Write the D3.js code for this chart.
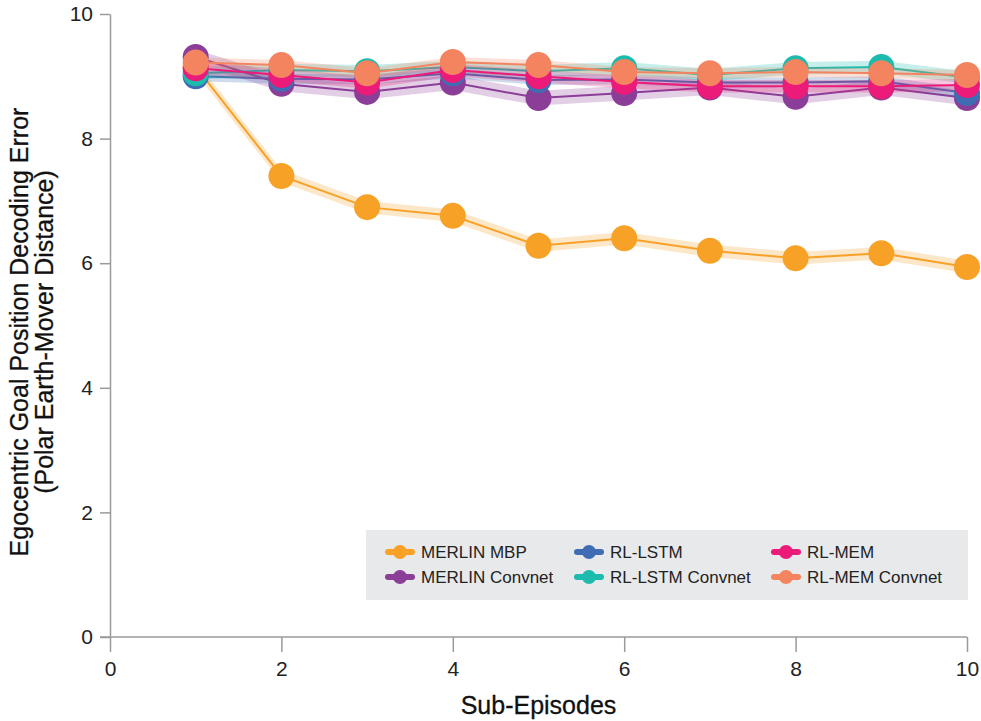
<!DOCTYPE html>
<html>
<head>
<meta charset="utf-8">
<script src="https://cdn.jsdelivr.net/npm/d3@7"></script>
<style>
	body { margin: 0; background: #fff; }
	text { font-family: "Liberation Sans", Arial, sans-serif; }
</style>
</head>
<body>
<div id="chart"></div>
<script>
const episodes = [1, 2, 3, 4, 5, 6, 7, 8, 9, 10];
const seriesNames = ["MERLIN MBP", "MERLIN Convnet", "RL-LSTM", "RL-LSTM Convnet", "RL-MEM", "RL-MEM Convnet"];
const seriesColors = ["#f8a127", "#8b3e98", "#3f6db4", "#1dbbad", "#ec1a78", "#f4845f"];
const merlinMbp = [9.15, 7.40, 6.90, 6.76, 6.28, 6.40, 6.20, 6.08, 6.16, 5.94];
const merlinConvnet = [9.31, 8.88, 8.75, 8.90, 8.65, 8.73, 8.82, 8.67, 8.82, 8.65];
const rlLstm = [9.00, 8.96, 8.95, 9.05, 8.94, 8.95, 8.90, 8.90, 8.92, 8.73];
const rlLstmConvnet = [9.05, 9.10, 9.08, 9.15, 9.08, 9.13, 9.02, 9.13, 9.15, 8.98];
const rlMem = [9.13, 9.02, 8.90, 9.10, 9.00, 8.91, 8.84, 8.84, 8.84, 8.86];
const rlMemConvnet = [9.22, 9.18, 9.05, 9.23, 9.18, 9.07, 9.05, 9.07, 9.05, 9.02];
const bandWidth = [0.1, 0.12, 0.08, 0.1, 0.1, 0.08];
const xTicks = [0, 2, 4, 6, 8, 10];
const yTicks = [0, 2, 4, 6, 8, 10];

const allValues = [merlinMbp, merlinConvnet, rlLstm, rlLstmConvnet, rlMem, rlMemConvnet];
const series = seriesNames.map((name, i) => ({
	name: name,
	color: seriesColors[i],
	band: bandWidth[i],
	values: episodes.map((e, j) => ({ x: e, y: allValues[i][j] })),
}));

const size = { w: 981, h: 721 };
const svg = d3
	.select("#chart")
	.append("svg")
	.attr("width", size.w)
	.attr("height", size.h);

const x = d3.scaleLinear().domain([0, 10]).range([110, 967]);
const y = d3.scaleLinear().domain([0, 10]).range([637, 14]);

// axes
const axisColor = "#9a9a9a";
const xAxisG = svg
	.append("g")
	.attr("transform", `translate(0, ${y(0)})`)
	.call(d3.axisBottom(x).tickValues(xTicks).tickSize(15).tickSizeOuter(0).tickPadding(9));
xAxisG.select(".domain").attr("stroke", axisColor).attr("stroke-width", 1.5).attr("d", `M100,0H${x(10)}`);
xAxisG.selectAll(".tick line").attr("stroke", axisColor).attr("stroke-width", 1.5);
xAxisG.selectAll(".tick text").attr("font-size", 21).attr("fill", "#222");

const yAxisG = svg
	.append("g")
	.attr("transform", `translate(${x(0)}, 0)`)
	.call(d3.axisLeft(y).tickValues(yTicks).tickSize(10).tickSizeOuter(0).tickPadding(7));
yAxisG.select(".domain").attr("stroke", axisColor).attr("stroke-width", 1.5);
yAxisG.selectAll(".tick line").attr("stroke", axisColor).attr("stroke-width", 1.5);
yAxisG.selectAll(".tick text").attr("font-size", 21).attr("fill", "#222");

svg.append("text")
	.attr("x", (x(0) + x(10)) / 2)
	.attr("y", 714)
	.attr("text-anchor", "middle")
	.attr("font-size", 25)
	.attr("fill", "#111")
	.attr("stroke", "#111")
	.attr("stroke-width", 0.3)
	.text("Sub-Episodes");

const yTitle = svg
	.append("text")
	.attr("transform", `translate(28, 332) rotate(-90)`)
	.attr("text-anchor", "middle")
	.attr("font-size", 25)
	.attr("fill", "#111")
	.attr("stroke", "#111")
	.attr("stroke-width", 0.3);
yTitle.append("tspan").attr("x", 0).attr("y", 0).text("Egocentric Goal Position Decoding Error");
yTitle.append("tspan").attr("x", 0).attr("y", 25).text("(Polar Earth-Mover Distance)");

// bands, lines, dots
const area = d3
	.area()
	.x((d) => x(d.x))
	.y0((d) => y(d.y - d.band))
	.y1((d) => y(d.y + d.band));
const line = d3
	.line()
	.x((d) => x(d.x))
	.y((d) => y(d.y));

const seriesG = svg
	.selectAll(".series")
	.data(series)
	.join("g")
	.classed("series", true);

seriesG
	.append("path")
	.attr("d", (s) => area(s.values.map((v) => ({ x: v.x, y: v.y, band: s.band }))))
	.attr("fill", (s) => s.color)
	.attr("fill-opacity", 0.25);

seriesG
	.append("path")
	.attr("d", (s) => line(s.values))
	.attr("fill", "none")
	.attr("stroke", (s) => s.color)
	.attr("stroke-width", 2);

seriesG
	.selectAll("circle")
	.data((s) => s.values.map((v) => ({ ...v, color: s.color })))
	.join("circle")
	.attr("cx", (d) => x(d.x))
	.attr("cy", (d) => y(d.y))
	.attr("r", 13)
	.attr("fill", (d) => d.color);

// legend
const legendG = svg.append("g").attr("transform", "translate(366, 530)");
legendG.append("rect").attr("width", 602).attr("height", 70).attr("fill", "#e8e9ea");
const colX = [34, 223, 420];
const rowY = [22, 47];
const legendItems = legendG
	.selectAll(".legend-item")
	.data(series)
	.join("g")
	.classed("legend-item", true)
	.attr("transform", (d, i) => `translate(${colX[Math.floor(i / 2)]}, ${rowY[i % 2]})`);
legendItems
	.append("line")
	.attr("x1", -12)
	.attr("x2", 12)
	.attr("stroke", (d) => d.color)
	.attr("stroke-width", 6)
	.attr("stroke-linecap", "round");
legendItems
	.append("circle")
	.attr("r", 7)
	.attr("fill", (d) => d.color);
legendItems
	.append("text")
	.attr("x", 21)
	.attr("dy", "0.36em")
	.attr("font-size", 17)
	.attr("fill", "#222")
	.text((d) => d.name);
</script>
</body>
</html>
